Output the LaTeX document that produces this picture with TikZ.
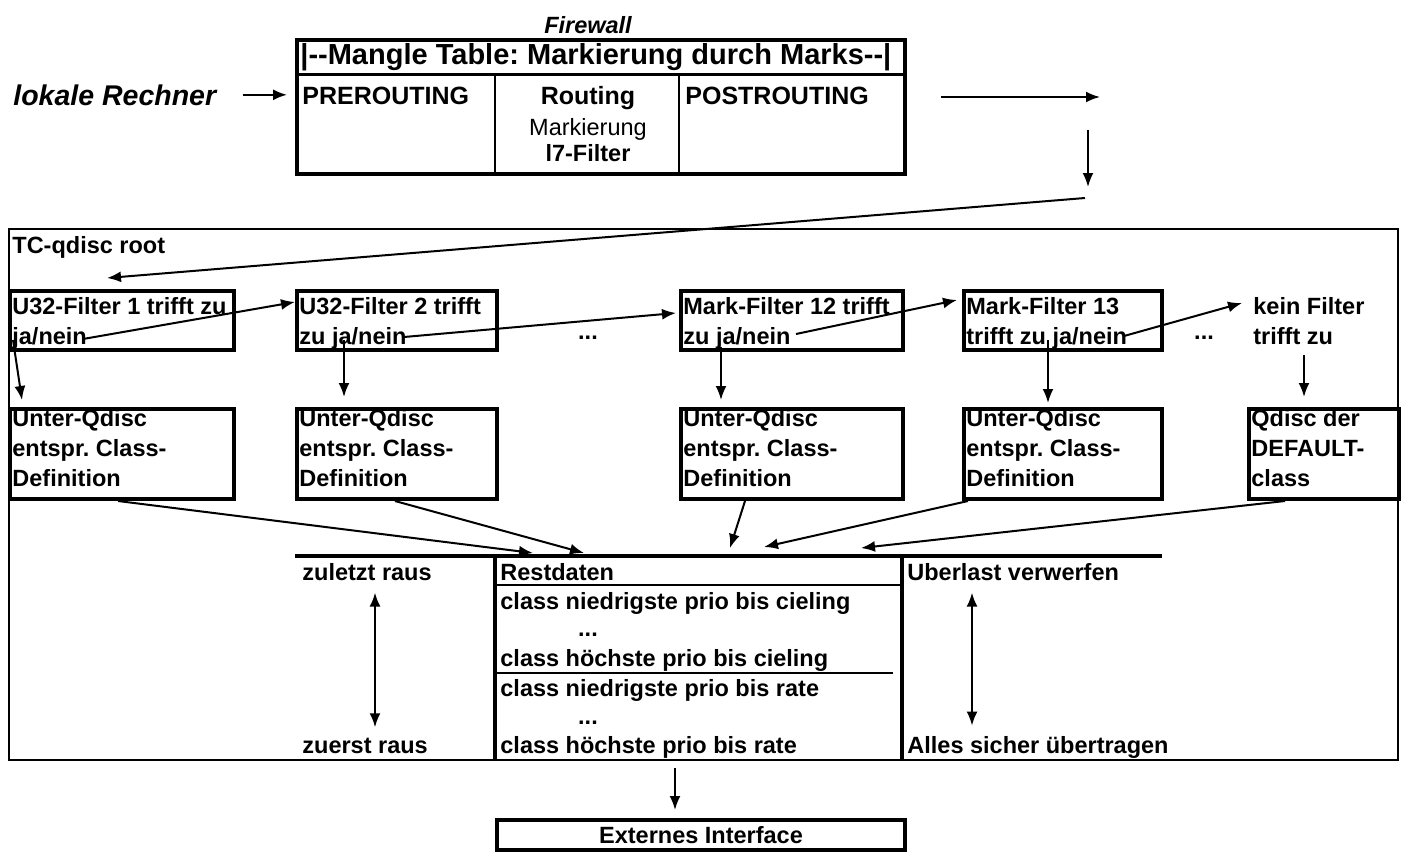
\documentclass[tikz,border=0pt]{standalone}
\usepackage{fontspec}
\setmainfont{Liberation Sans}
\usetikzlibrary{arrows.meta}
\frenchspacing
\begin{document}
\begin{tikzpicture}[x=0.5pt,y=-0.5pt,
    every node/.style={inner sep=0pt,font=\fontsize{11.75}{15}\selectfont\bfseries},
    box/.style 2 args={draw,line width=2pt,anchor=north west,minimum width=#1,minimum height=#2},
    txt/.style={anchor=north west,align=left},
    colfont/.style={font=\fontsize{12.5}{15}\selectfont\bfseries},
    arr/.style={-{Latex[length=7pt,width=5.5pt]},line width=1pt},
    darr/.style={{Latex[length=7pt,width=5.5pt]}-{Latex[length=7pt,width=5.5pt]},line width=1pt}]
    \useasboundingbox (0,0) rectangle (1401,851);
    % firewall table
    \node[font=\fontsize{11.75}{15}\selectfont\bfseries\itshape] (fwname) at (588,25) {Firewall};
    \node[box={304pt}{67pt}] (fw) at (295,38) {};
    \draw[line width=1.5pt] (295,74) -- (903,74);
    \draw[line width=1pt] (495,74) -- (495,172) (679,74) -- (679,172);
    \node[anchor=west,font=\fontsize{14.5}{17}\selectfont\bfseries] (mangle) at (300,57) {|-{}-Mangle Table: Markierung durch Marks-{}-|};
    \node[colfont,anchor=base west] (pre) at (302,104) {PREROUTING};
    \node[colfont,anchor=base] (rout) at (588,104) {Routing};
    \node[font=\fontsize{11.75}{15}\selectfont,anchor=base] (mark) at (588,135) {Markierung};
    \node[anchor=base] (lsieben) at (588,161) {l7-Filter};
    \node[colfont,anchor=base west] (post) at (685,104) {POSTROUTING};
    \node[anchor=base west,font=\fontsize{14.25}{17}\selectfont\bfseries\itshape] (rechner) at (13,105) {lokale Rechner};
    \draw[arr] ([xshift=13pt]rechner.east) -- ([xshift=-4pt]rechner.east -| fw.west);
    \coordinate (o1) at (941,97);
    \coordinate (o2) at (1100,97);
    \coordinate (o3) at (1088,130);
    \coordinate (o4) at (1088,187);
    \coordinate (o5) at (1085,198);
    \draw[arr] (o1) -- (o2);
    \draw[arr] (o3) -- (o4);
    % TC qdisc
    \node[draw,line width=1.2pt,anchor=north west,minimum width=694.5pt,minimum height=265.5pt] (tc) at (8,228) {};
    \node[txt] (root) at ([shift={(2pt,-4pt)}]tc.north west) {TC-qdisc root};
    % filters
    \node[box={112pt}{29.5pt}] (f1) at (8,289) {};
    \node[txt] (f1t) at ([shift={(2pt,-4pt)}]f1.north west) {U32-Filter 1 trifft zu\\ja/nein};
    \node[box={100pt}{29.5pt}] (f2) at (295,289) {};
    \node[txt] (f2t) at ([shift={(2pt,-4pt)}]f2.north west) {U32-Filter 2 trifft\\zu ja/nein};
    \node[box={111pt}{29.5pt}] (f3) at (679,289) {};
    \node[txt] (f3t) at ([shift={(2pt,-4pt)}]f3.north west) {Mark-Filter 12 trifft\\zu ja/nein};
    \node[box={99pt}{29.5pt}] (f4) at (962,289) {};
    \node[txt] (f4t) at ([shift={(2pt,-4pt)}]f4.north west) {Mark-Filter 13\\trifft zu ja/nein};
    \node[txt] (kf) at (1253,297) {kein Filter\\trifft zu};
    \node (dots1) at (588,338) {...};
    \node (dots2) at (1204,338) {...};
    % sub qdiscs
    \node[box={112pt}{45pt}] (q1) at (8,407) {};
    \node[txt] (q1t) at ([shift={(2pt,-1pt)}]q1.north west) {Unter-Qdisc\\entspr. Class-\\Definition};
    \node[box={100pt}{45pt}] (q2) at (295,407) {};
    \node[txt] (q2t) at ([shift={(2pt,-1pt)}]q2.north west) {Unter-Qdisc\\entspr. Class-\\Definition};
    \node[box={111pt}{45pt}] (q3) at (679,407) {};
    \node[txt] (q3t) at ([shift={(2pt,-1pt)}]q3.north west) {Unter-Qdisc\\entspr. Class-\\Definition};
    \node[box={99pt}{45pt}] (q4) at (962,407) {};
    \node[txt] (q4t) at ([shift={(2pt,-1pt)}]q4.north west) {Unter-Qdisc\\entspr. Class-\\Definition};
    \node[box={75pt}{45pt}] (q5) at (1247,407) {};
    \node[txt] (q5t) at ([shift={(2pt,-1pt)}]q5.north west) {Qdisc der\\DEFAULT-\\class};
    % arrows in the qdisc
    \draw[arr] (o5) -- ([xshift=-7.5pt,yshift=5.5pt]f1.north);
    \draw[arr] ([xshift=37.5pt,yshift=6.5pt]f1.south west) -- ([yshift=-6.5pt]f2.north west);
    \draw[arr] ([xshift=54.5pt,yshift=7.5pt]f2.south west) -- ([xshift=-1.5pt,yshift=-12pt]f3.north west);
    \draw[arr] ([xshift=58.5pt,yshift=9pt]f3.south west) -- ([xshift=-2.5pt,yshift=-5.5pt]f4.north west);
    \draw[arr] ([xshift=81pt,yshift=8pt]f4.south west) -- ([xshift=-5.5pt,yshift=-3pt]kf.north west);
    \draw[arr] ([xshift=2.5pt,yshift=6pt]f1.south west) -- ([xshift=7pt,yshift=3.5pt]q1.north west);
    \draw[arr] ([xshift=24.5pt,yshift=6pt]f2.south west) -- ([xshift=24.5pt,yshift=5pt]q2.north west);
    \draw[arr] ([xshift=21pt,yshift=2.5pt]f3.south west) -- ([xshift=21pt,yshift=3.5pt]q3.north west);
    \draw[arr] ([xshift=43pt,yshift=6pt]f4.south west) -- ([xshift=43pt,yshift=2pt]q4.north west);
    \draw[arr] ([xshift=28.5pt,yshift=-5pt]q5.north west |- kf.south) -- ([xshift=28.5pt,yshift=5pt]q5.north west);
    % queue
    \draw[line width=2pt] (295,556) -- (1162,556);
    \draw[line width=2pt] (495,556) -- (495,759) (902,556) -- (902,759);
    \draw[line width=1pt] (495,585) -- (902,585) (495,673) -- (893,673);
    \coordinate (b1) at (533,553);
    \coordinate (b2) at (584,553);
    \coordinate (b3) at (730,548);
    \coordinate (b4) at (764,547);
    \coordinate (b5) at (861,548);
    \draw[arr] ([xshift=-2pt]q1.south) -- (b1);
    \draw[arr] ([xshift=-1pt]q2.south) -- (b2);
    \draw[arr] ([xshift=33pt]q3.south west) -- (b3);
    \draw[arr] ([xshift=3pt]q4.south west) -- (b4);
    \draw[arr] ([xshift=19pt]q5.south west) -- (b5);
    \node[anchor=base west] (zl) at (302,580) {zuletzt raus};
    \node[anchor=base west] (ze) at (302,753) {zuerst raus};
    \draw[darr] ([xshift=36.5pt,yshift=-6pt]zl.south west) -- ([xshift=36.5pt,yshift=5pt]ze.north west);
    \node[anchor=base west] (rest) at (500,580) {Restdaten};
    \node[anchor=base west] (c1) at (500,609) {class niedrigste prio bis cieling};
    \node[anchor=base] (c2) at (588,636) {...};
    \node[anchor=base west] (c3) at (500,666) {class höchste prio bis cieling};
    \node[anchor=base west] (c4) at (500,696) {class niedrigste prio bis rate};
    \node[anchor=base] (c5) at (588,724) {...};
    \node[anchor=base west] (c6) at (500,753) {class höchste prio bis rate};
    \node[anchor=base west] (ub) at (907,580) {Uberlast verwerfen};
    \node[anchor=base west] (al) at (907,753) {Alles sicher übertragen};
    \draw[darr] ([xshift=32.5pt,yshift=-6pt]ub.south west) -- ([xshift=32.5pt,yshift=5pt]al.north west);
    % interface
    \node[box={204pt}{15pt}] (ext) at (495,818) {Externes Interface};
    \draw[arr] ([xshift=-13pt,yshift=25pt]ext.north) -- ([xshift=-13pt,yshift=4pt]ext.north);
\end{tikzpicture}
\end{document}
